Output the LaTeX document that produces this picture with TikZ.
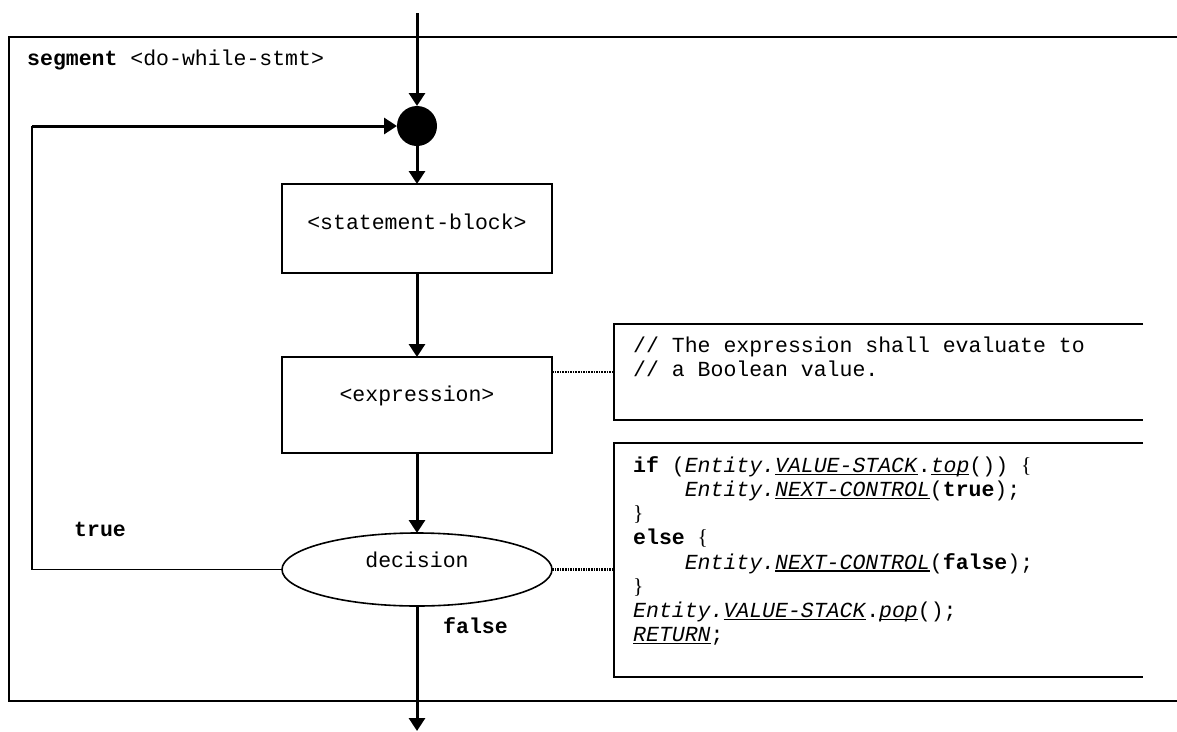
\documentclass[tikz,border=0pt]{standalone}
\usepackage{fontspec}
\setmainfont{Liberation Mono}
\newfontfamily\tmsfont{Liberation Serif}
\usetikzlibrary{arrows.meta,shapes.geometric}
\newsavebox\ulbox
\newcommand\ulx[1]{\sbox\ulbox{#1}\rlap{\rule[-2.5pt]{\wd\ulbox}{1.3pt}}\usebox\ulbox}
\newcommand\obr{{\tmsfont\{}}
\newcommand\cbr{{\tmsfont\}}}
\tikzset{
  thinline/.style={line width=1.6pt},
  boxshape/.style={draw,rectangle,line width=1.6pt,inner sep=0pt,outer sep=0pt},
  openbox/.style={rectangle,inner sep=0pt,outer sep=0pt},
  arr/.style={-{Triangle[length=13pt,width=16pt]},line width=3pt},
  dotline/.style={line width=2.2pt,dash pattern=on 1.6pt off 1pt},
  txt/.style={inner sep=0pt,font=\fontsize{21.5}{24.3}\selectfont},
  txtl/.style={txt,anchor=base west},
  txtc/.style={txt,anchor=base},
}
\begin{document}
\begin{tikzpicture}[x=1pt,y=-1pt]
\useasboundingbox (0,0) rectangle (1177,731);
% outer frame
\draw[thinline] (1190,37) -- (9,37) -- (9,701) -- (1190,701);
\node[txtl] (title) at (27,65) {\textbf{segment} <do-while-stmt>};
% nodes
\node[circle,fill=black,minimum size=40pt,inner sep=0pt,outer sep=0pt] (j) at (417,126) {};
\node[boxshape,minimum width=270pt,minimum height=89pt] (stmt) at (417,228.5) {};
\node[txtc] (stmtt) at (417,229) {<statement-block>};
\node[boxshape,minimum width=270pt,minimum height=96pt] (expr) at (417,405) {};
\node[txtc] (exprt) at (417,401) {<expression>};
\node[ellipse,draw,line width=1.6pt,minimum width=270pt,minimum height=73pt,inner sep=0pt,outer sep=0pt] (dec) at (417,569.5) {};
\node[txtc] (dect) at (417,567) {decision};
% comment boxes (open to the right)
\node[openbox,minimum width=529pt,minimum height=96pt] (cmt) at (878.5,372) {};
\draw[thinline] (cmt.north east) -- (cmt.north west) -- (cmt.south west) -- (cmt.south east);
\node[txtl] (cm1) at (633,352.7) {// The expression shall evaluate to};
\node[txtl] (cm2) at (633,376.7) {// a Boolean value.};
\node[openbox,minimum width=529pt,minimum height=234pt] (code) at (878.5,560) {};
\draw[thinline] (code.north east) -- (code.north west) -- (code.south west) -- (code.south east);
\node[txtl] (l1) at (633,472.3) {\textbf{if} (\textit{Entity.}\ulx{\textit{VALUE-STACK}}.\ulx{\textit{top}}()) \obr};
\node[txtl] (l2) at (684.6,496.5) {\textit{Entity.}\ulx{\textit{NEXT-CONTROL}}(\textbf{true});};
\node[txtl] (l3) at (633,520.7) {\cbr};
\node[txtl] (l4) at (633,544.9) {\textbf{else} \obr};
\node[txtl] (l5) at (684.6,569.1) {\textit{Entity.}\ulx{\textit{NEXT-CONTROL}}(\textbf{false});};
\node[txtl] (l6) at (633,593.3) {\cbr};
\node[txtl] (l7) at (633,617.5) {\textit{Entity.}\ulx{\textit{VALUE-STACK}}.\ulx{\textit{pop}}();};
\node[txtl] (l8) at (633,641.7) {\ulx{\textit{RETURN}};};
% labels
\node[txtl] (tlab) at (74,536) {\textbf{true}};
\node[txtl] (flab) at (443,633) {\textbf{false}};
% connectors
\coordinate (in) at (417,13);
\coordinate (out) at (417,731);
\coordinate (loop) at (32,126);
\draw[arr] (in) -- (j.north);
\draw[arr] (j.south) -- (stmt.north);
\draw[arr] (stmt.south) -- (expr.north);
\draw[arr] (expr.south) -- (dec.north);
\draw[arr] (dec.south) -- (out);
\draw[thinline] (dec.west) -| (loop);
\draw[arr] (loop) -- (j.west);
\draw[dotline] (cmt.west -| expr.east) -- (cmt.west);
\draw[dotline] (dec.east) -- (dec.east -| code.west);
\end{tikzpicture}
\end{document}
